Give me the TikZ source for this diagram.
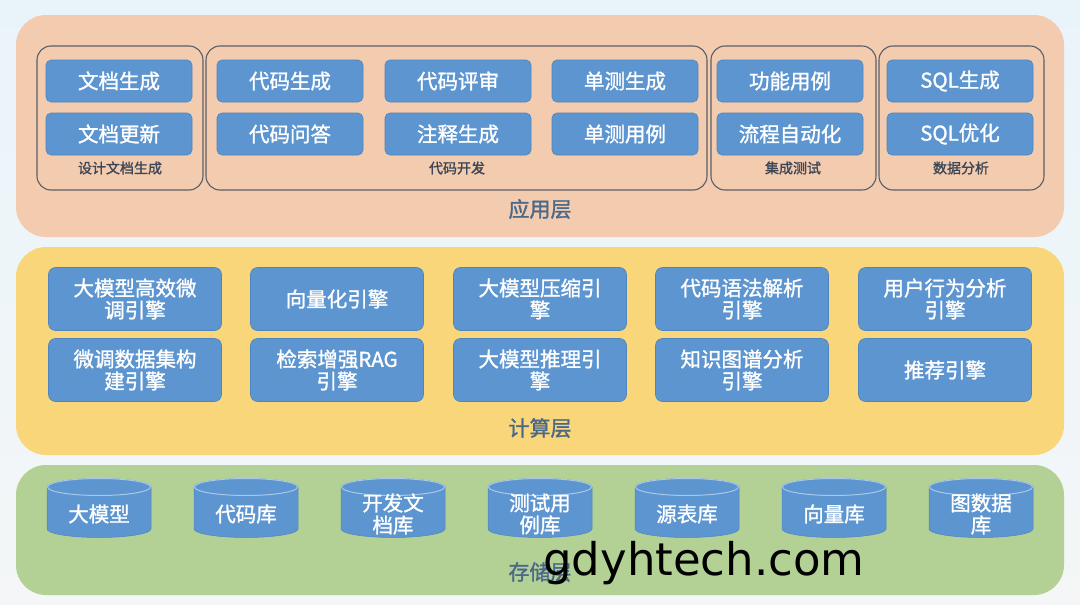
\documentclass[tikz,border=0pt]{standalone}
\usepackage{fontspec}
\setmainfont{Noto Sans CJK SC}[BoldFont={Noto Sans CJK SC}, BoldFeatures={FakeBold=1.3}]
\newfontfamily\wmfont{DejaVu Sans}
\definecolor{bgtop}{HTML}{E9F4FA}
\definecolor{bgbot}{HTML}{F4F6F7}
\definecolor{appfill}{HTML}{F3CBAE}
\definecolor{cmpfill}{HTML}{F9D67A}
\definecolor{stofill}{HTML}{B3D194}
\definecolor{boxblue}{HTML}{5D95D0}
\definecolor{boxedge}{HTML}{4E85C0}
\definecolor{cyltop}{HTML}{A9C8EA}
\definecolor{grpedge}{HTML}{5A5F68}
\definecolor{grptext}{HTML}{3C4656}
\definecolor{laytext}{HTML}{4A6888}
\begin{document}
\begin{tikzpicture}[x=1pt,y=-1pt,
  layer/.style={rounded corners=30pt},
  grpbox/.style={draw=grpedge, line width=1.1pt, rounded corners=14pt},
  grplabel/.style={text=grptext, font=\bfseries\fontsize{14}{16}\selectfont, inner sep=0pt},
  laylabel/.style={text=laytext, font=\bfseries\fontsize{21}{23}\selectfont, inner sep=0pt},
  appbox/.style={rectangle, rounded corners=5pt, fill=boxblue, draw=boxedge, line width=0.6pt,
    minimum width=146pt, minimum height=42pt, text=white, inner sep=0pt,
    font=\bfseries\fontsize{20.5}{22}\selectfont},
  cmpbox/.style={rectangle, rounded corners=7pt, fill=boxblue, draw=boxedge, line width=0.6pt,
    minimum width=173pt, minimum height=63pt, text=white, inner sep=0pt, align=center,
    font=\bfseries\fontsize{20.5}{22}\selectfont},
  cyltext/.style={text=white, inner sep=0pt, align=center, font=\bfseries\fontsize{20.5}{22}\selectfont},
  cylbody/.style={fill=boxblue, draw=boxedge, line width=0.5pt},
  cylrim/.style={draw=cyltop, line width=1pt}
]
\useasboundingbox (0,0) rectangle (1080,605);
\fill[top color=bgtop, bottom color=bgbot] (0,0) rectangle (1080,605);

% ---------- layers ----------
\fill[layer, appfill] (16,15) rectangle (1064,237);
\fill[layer, cmpfill] (16,247) rectangle (1064,455);
\fill[layer, stofill] (16,465) rectangle (1064,595);

% ---------- application layer ----------
\draw[grpbox] (37,46) rectangle (203,190);
\draw[grpbox] (206,46) rectangle (707,190);
\draw[grpbox] (711,46) rectangle (876,190);
\draw[grpbox] (879,46) rectangle (1044,190);

\node[appbox] (a11) at (119,81) {文档生成};
\node[appbox] (a12) at (119,134) {文档更新};
\node[appbox] (a21) at (290,81) {代码生成};
\node[appbox] (a22) at (290,134) {代码问答};
\node[appbox] (a31) at (458,81) {代码评审};
\node[appbox] (a32) at (458,134) {注释生成};
\node[appbox] (a41) at (625,81) {单测生成};
\node[appbox] (a42) at (625,134) {单测用例};
\node[appbox] (a51) at (790,81) {功能用例};
\node[appbox] (a52) at (790,134) {流程自动化};
\node[appbox] (a61) at (960,81) {SQL生成};
\node[appbox] (a62) at (960,134) {SQL优化};

\node[grplabel] (g1) at (120,168) {设计文档生成};
\node[grplabel] (g2) at (457,168) {代码开发};
\node[grplabel] (g3) at (793,168) {集成测试};
\node[grplabel] (g4) at (961,168) {数据分析};
\node[laylabel] (lapp) at (540,209) {应用层};

% ---------- compute layer ----------
\node[cmpbox] (c11) at (135,299) {大模型高效微\\调引擎};
\node[cmpbox] (c12) at (135,370) {微调数据集构\\建引擎};
\node[cmpbox] (c21) at (337,299) {向量化引擎};
\node[cmpbox] (c22) at (337,370) {检索增强RAG\\引擎};
\node[cmpbox] (c31) at (540,299) {大模型压缩引\\擎};
\node[cmpbox] (c32) at (540,370) {大模型推理引\\擎};
\node[cmpbox] (c41) at (742,299) {代码语法解析\\引擎};
\node[cmpbox] (c42) at (742,370) {知识图谱分析\\引擎};
\node[cmpbox] (c51) at (945,299) {用户行为分析\\引擎};
\node[cmpbox] (c52) at (945,370) {推荐引擎};
\node[laylabel] (lcmp) at (540,428) {计算层};

% ---------- storage layer ----------
\foreach \cx/\nm/\txt in {99/s1/{大模型}, 246/s2/{代码库}, 393/s3/{开发文\\档库},
    540/s4/{测试用\\例库}, 687/s5/{源表库}, 834/s6/{向量库}, 981/s7/{图数据\\库}} {
  \path[cylbody] (\cx-52,487) -- (\cx-52,529)
    arc[start angle=180, end angle=0, x radius=52, y radius=8.5]
    -- (\cx+52,487)
    arc[start angle=0, end angle=-180, x radius=52, y radius=8.5] -- cycle;
  \draw[cylrim] (\cx,487) ellipse[x radius=51.5, y radius=8.5];
  \node[cyltext] (\nm) at (\cx,514) {\txt};
}
\node[laylabel] (lsto) at (540,572) {存储层};

% ---------- watermark ----------
\node[anchor=base, inner sep=0pt, text=black, font=\wmfont\fontsize{45}{45}\selectfont] (wm) at (704,575) {gdyhtech.com};
\end{tikzpicture}
\end{document}
